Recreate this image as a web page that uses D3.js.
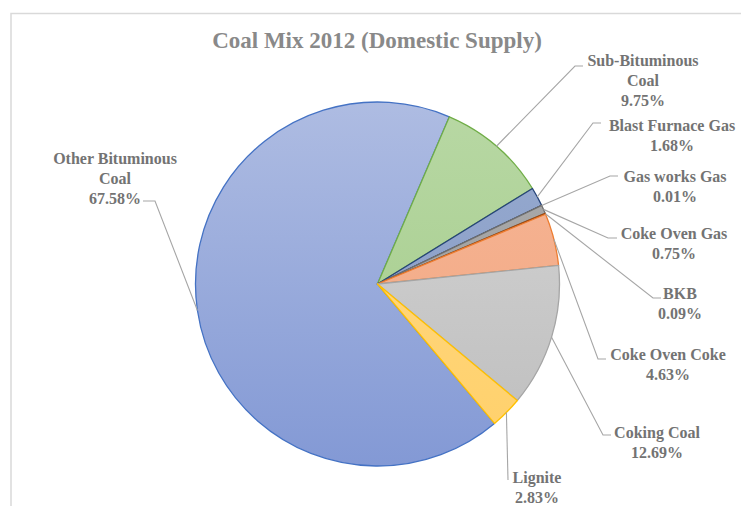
<!DOCTYPE html>
<html>
<head>
<meta charset="utf-8">
<script src="https://cdn.jsdelivr.net/npm/d3@7"></script>
<style>
  html, body { margin: 0; padding: 0; background: #ffffff; }
  svg { display: block; }
</style>
</head>
<body>
<div id="chart"></div>
<script>
// Coal supply mix, 2012 (share of domestic supply, %)
const categories = [
  "Other Bituminous Coal", "Sub-Bituminous Coal", "Blast Furnace Gas",
  "Gas works Gas", "Coke Oven Gas", "BKB", "Coke Oven Coke",
  "Coking Coal", "Lignite"
];
const shares = [67.58, 9.75, 1.68, 0.01, 0.75, 0.09, 4.63, 12.69, 2.83];
const labelLines = [
  ["Other Bituminous", "Coal"], ["Sub-Bituminous", "Coal"], ["Blast Furnace Gas"],
  ["Gas works Gas"], ["Coke Oven Gas"], ["BKB"], ["Coke Oven Coke"],
  ["Coking Coal"], ["Lignite"]
];

// Slice styling: outline colour, fill at top of pie, fill at bottom of pie
const outlineColors = ["#4472c4", "#70ad47", "#264478", "#636363", "#6f6f6f", "#9e480e", "#ed7d31", "#a5a5a5", "#ffc000"];
const fillTop    = ["#aebce2", "#b8d8a4", "#97abd0", "#9a9a9a", "#acacac", "#d59a70", "#f6b697", "#d6d6d6", "#ffda88"];
const fillBottom = ["#8399d5", "#a2cb88", "#8599c3", "#8a8a8a", "#9a9a9a", "#c78256", "#f2a67f", "#bdbdbd", "#ffd06a"];

// Label layout: text centre x, first-line centre y, leader elbow and end
const labelLayout = [
  { x: 115, y: 158, elbow: [155, 201], end: [143, 201] },
  { x: 643, y: 60,  elbow: [575, 66],  end: [583, 66] },
  { x: 672, y: 125, elbow: [593, 123], end: [601, 123] },
  { x: 675, y: 176, elbow: [610, 176], end: [618, 176] },
  { x: 674, y: 233, elbow: [608, 238], end: [617, 238] },
  { x: 680, y: 293, elbow: [653, 298], end: [661, 298] },
  { x: 668, y: 354, elbow: [598, 359], end: [606, 359] },
  { x: 657, y: 432, elbow: [603, 435], end: [611, 435] },
  { x: 537, y: 477, elbow: [508, 480], end: [508, 480] }
];

const FONT = '"Liberation Serif"';
const W = 741, H = 506;
const cx = 377.5, cy = 284, R = 182;
const firstSliceAngle = 140; // degrees, clockwise from 12 o'clock

const svg = d3.select("#chart").append("svg")
  .attr("width", W).attr("height", H);

// Chart area frame
svg.append("rect")
  .attr("x", 11).attr("y", 13.5)
  .attr("width", W + 20).attr("height", H + 20)
  .attr("fill", "none").attr("stroke", "#d9d9d9").attr("stroke-width", 1.5);

// Title
svg.append("text")
  .attr("x", 377).attr("y", 48)
  .attr("text-anchor", "middle")
  .style("font-family", FONT)
  .style("font-weight", "bold")
  .style("font-size", "23px")
  .attr("fill", "#898989")
  .text("Coal Mix 2012 (Domestic Supply)");

// Vertical shading per slice, spanning the pie (coordinates local to the pie group)
const defs = svg.append("defs");
categories.forEach((c, i) => {
  const g = defs.append("linearGradient")
    .attr("id", "grad" + i)
    .attr("gradientUnits", "userSpaceOnUse")
    .attr("x1", 0).attr("y1", -R).attr("x2", 0).attr("y2", R);
  g.append("stop").attr("offset", "0%").attr("stop-color", fillTop[i]);
  g.append("stop").attr("offset", "100%").attr("stop-color", fillBottom[i]);
});

const start = firstSliceAngle * Math.PI / 180;
const pie = d3.pie().sort(null).value(d => d)
  .startAngle(start).endAngle(start + 2 * Math.PI);
const arcs = pie(shares);
const arc = d3.arc().innerRadius(0).outerRadius(R);

const g = svg.append("g").attr("transform", `translate(${cx},${cy})`);
g.selectAll("path.slice")
  .data(arcs)
  .join("path")
  .attr("class", "slice")
  .attr("d", arc)
  .attr("fill", (d, i) => `url(#grad${i})`)
  .attr("stroke", (d, i) => outlineColors[i])
  .attr("stroke-width", 1.3)
  .attr("stroke-linejoin", "round");

// Leader lines from each slice's outer edge to its label
const line = d3.line();
arcs.forEach((d, i) => {
  const mid = (d.startAngle + d.endAngle) / 2;
  const p0 = [cx + R * Math.sin(mid), cy - R * Math.cos(mid)];
  const L = labelLayout[i];
  svg.append("path")
    .attr("d", line([p0, L.elbow, L.end]))
    .attr("fill", "none")
    .attr("stroke", "#a6a6a6")
    .attr("stroke-width", 1.1);
});

// Data labels: category name and share
const fmt = d3.format(".2f");
arcs.forEach((d, i) => {
  const L = labelLayout[i];
  const lines = labelLines[i].concat([fmt(d.data) + "%"]);
  const t = svg.append("text")
    .attr("text-anchor", "middle")
    .style("font-family", FONT)
    .style("font-weight", "bold")
    .style("font-size", "16px")
    .attr("fill", "#737373");
  lines.forEach((s, k) => {
    t.append("tspan")
      .attr("x", L.x)
      .attr("y", L.y + 5.5 + k * 20)
      .text(s);
  });
});
</script>
</body>
</html>
